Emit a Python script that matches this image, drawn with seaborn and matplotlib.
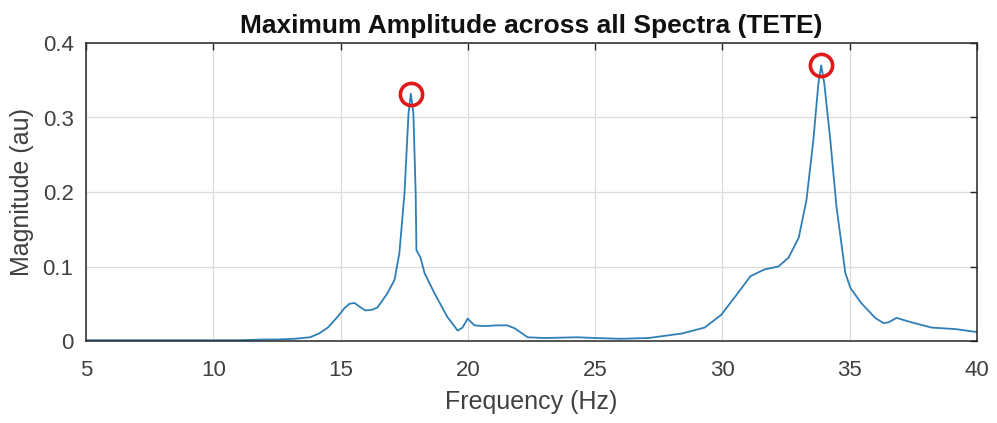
import numpy as np
import matplotlib
matplotlib.use('Agg')
import matplotlib.pyplot as plt
import seaborn as sns
import pandas as pd

# values
freq_hz = [5, 6, 7, 8, 9, 10, 11, 12, 12.5, 13.2, 13.8, 14.15, 14.5, 14.87, 15.15,
           15.35, 15.55, 15.75, 15.97, 16.25, 16.45, 16.84, 17.12, 17.31, 17.51, 17.67,
           17.76, 17.86, 17.95, 17.98, 18.14, 18.3, 18.69, 19.2, 19.6, 19.79, 19.99,
           20.26, 20.65, 21.15, 21.55, 21.84, 22.35, 23.0, 24.3, 25, 26, 27.1, 27.75,
           28.4, 29.3, 29.95, 30.6, 31.1, 31.65, 32.2, 32.6, 33.0, 33.3, 33.57, 33.77,
           33.88, 34.0, 34.24, 34.48, 34.83, 35.03, 35.45, 36.0, 36.33, 36.52, 36.84,
           37.43, 38.22, 39.15, 40]
magnitude = [0.001, 0.001, 0.001, 0.001, 0.001, 0.001, 0.001, 0.002, 0.002, 0.003,
             0.005, 0.010, 0.018, 0.032, 0.044, 0.050, 0.051, 0.046, 0.041, 0.042,
             0.045, 0.064, 0.082, 0.118, 0.198, 0.306, 0.332, 0.306, 0.198, 0.122,
             0.112, 0.091, 0.064, 0.032, 0.014, 0.018, 0.030, 0.021, 0.020, 0.021,
             0.021, 0.017, 0.005, 0.004, 0.005, 0.004, 0.003, 0.004, 0.007, 0.010,
             0.018, 0.035, 0.064, 0.087, 0.096, 0.100, 0.112, 0.139, 0.189, 0.269,
             0.346, 0.370, 0.346, 0.269, 0.180, 0.091, 0.071, 0.051, 0.031, 0.024,
             0.025, 0.031, 0.025, 0.018, 0.016, 0.012]

x_ticks = [5, 10, 15, 20, 25, 30, 35, 40]
y_ticks = [0, 0.1, 0.2, 0.3, 0.4]
y_tick_labels = ['0', '0.1', '0.2', '0.3', '0.4']

df = pd.DataFrame({'freq': freq_hz, 'mag': magnitude})

# the two marked peaks: max below and above 25 Hz
low = df[df.freq < 25]
high = df[df.freq >= 25]
peaks = pd.concat([low.loc[[low.mag.idxmax()]], high.loc[[high.mag.idxmax()]]])

sns.set_style('white')
plt.rcParams['font.family'] = ['Liberation Sans', 'DejaVu Sans']

fig, ax = plt.subplots(figsize=(9.97, 4.23), dpi=100)
fig.subplots_adjust(left=86/997, right=977/997, bottom=1-341/423, top=1-43/423)

sns.lineplot(data=df, x='freq', y='mag', ax=ax, color='#2f7fb5', linewidth=1.3)
ax.plot(peaks.freq, peaks.mag, 'o', markersize=16, markerfacecolor='none',
        markeredgecolor='#e01a1a', markeredgewidth=2.6)

ax.set_xlim(5, 40)
ax.set_ylim(0, 0.4)
ax.set_xticks(x_ticks)
ax.set_yticks(y_ticks)
ax.set_yticklabels(y_tick_labels)
ax.grid(True, color='#dcdcdc', linewidth=0.9)
ax.tick_params(direction='in', length=5, width=1, top=True, right=True,
               labelsize=16, colors='#262626', labelcolor='#404040')
ax.tick_params(axis='x', pad=14)
ax.tick_params(axis='y', pad=9)
for s in ax.spines.values():
    s.set_color('#262626')
    s.set_linewidth(1.1)

ax.set_title('Maximum Amplitude across all Spectra (TETE)', fontsize=19,
             fontweight='bold', pad=7, color='#111111')
ax.set_xlabel('Frequency (Hz)', fontsize=18, color='#404040', labelpad=6)
ax.set_ylabel('Magnitude (au)', fontsize=18, color='#404040', labelpad=6)

plt.savefig('out.png', dpi=100)
